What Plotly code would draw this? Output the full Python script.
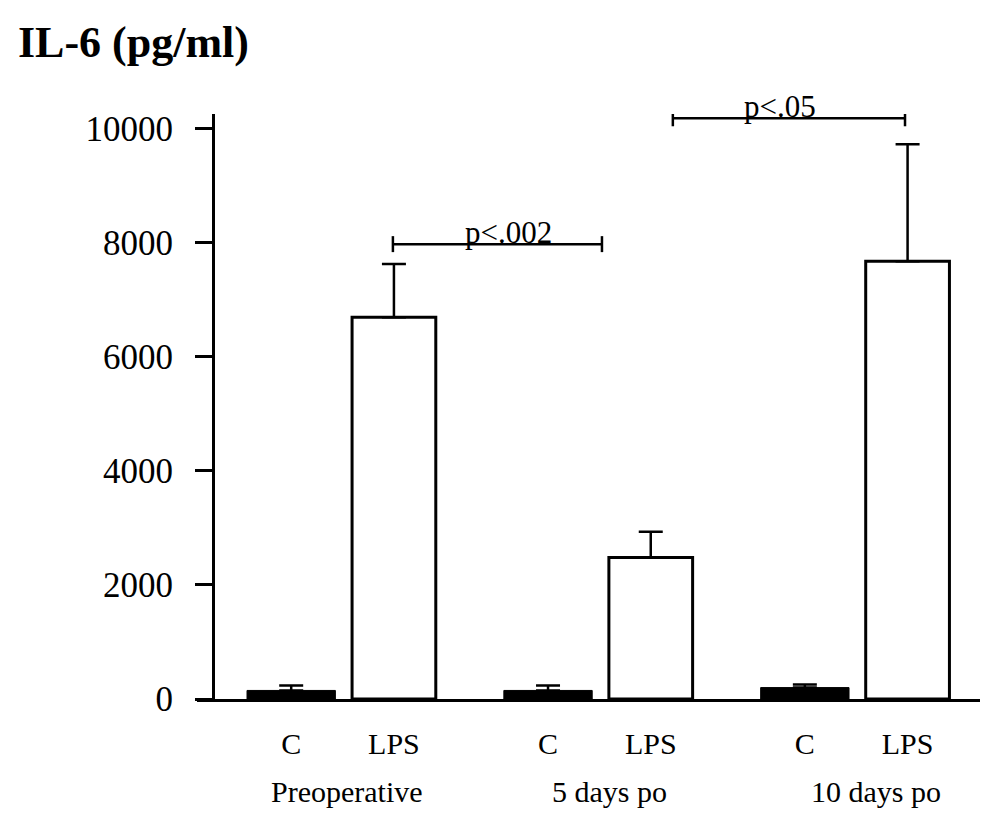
import plotly.graph_objects as go

# ---- data ----
groups = ["Preoperative", "5 days po", "10 days po"]
series = ["C", "LPS"]
c_values = [150, 150, 200]
c_errors = [85, 85, 55]
lps_values = [6690, 2480, 7670]
lps_errors = [930, 450, 2050]
y_ticks = [0, 2000, 4000, 6000, 8000, 10000]
# significance brackets: (x_start, x_end, y, label, label_x) in bar-position units
brackets = [
    (1.98, 6.05, 7970, "p<.002", 4.24),
    (7.43, 11.95, 10175, "p<.05", 9.52),
]

GROUP_STEP = 5
SERIES_OFFSET = 2
FONT = "Liberation Serif"
PAGE_OFFSET = 8  # default body margin of the html page
GROUP_LABEL_XSHIFT = [4, 10, 20]

c_x = [g * GROUP_STEP for g in range(len(groups))]
lps_x = [g * GROUP_STEP + SERIES_OFFSET for g in range(len(groups))]

fig = go.Figure()
fig.add_trace(go.Bar(
    x=c_x, y=c_values, width=1.72, name="C",
    marker=dict(color="black", line=dict(color="black", width=1)),
    error_y=dict(type="data", symmetric=False, array=c_errors,
                 arrayminus=[0] * len(c_errors), color="black",
                 thickness=2.5, width=12),
))
fig.add_trace(go.Bar(
    x=lps_x, y=lps_values, width=1.63, name="LPS",
    marker=dict(color="white", line=dict(color="black", width=3)),
    error_y=dict(type="data", symmetric=False, array=lps_errors,
                 arrayminus=[0] * len(lps_errors), color="black",
                 thickness=2.5, width=12),
))

tickvals = []
ticktext = []
for g in range(len(groups)):
    tickvals += [c_x[g], lps_x[g]]
    ticktext += series

shapes = []
annotations = []
for x0, x1, y, label, lx in brackets:
    shapes.append(dict(type="line", xref="x", yref="y", x0=x0, x1=x1, y0=y, y1=y,
                       line=dict(color="black", width=2.5)))
    for xe in (x0, x1):
        shapes.append(dict(type="line", xref="x", yref="y", x0=xe, x1=xe,
                           y0=y - 140, y1=y + 140, line=dict(color="black", width=2.5)))
    annotations.append(dict(x=lx, y=y, xref="x", yref="y", text=label, showarrow=False,
                            yanchor="bottom", yshift=-8,
                            font=dict(family=FONT, size=31, color="black")))

for g, name in enumerate(groups):
    annotations.append(dict(x=(c_x[g] + lps_x[g]) / 2, y=0, xref="x", yref="paper",
                            text=name, showarrow=False, yanchor="middle", yshift=-92,
                            xshift=GROUP_LABEL_XSHIFT[g],
                            font=dict(family=FONT, size=30, color="black")))

# target pixel positions in the screenshot
L, R = 197, 980
TOP, BOTTOM = 114, 699.5
x_left = -1.834
x_right = 13.41
yaxis_pos = (213 - L) / (R - L)

fig.update_layout(
    width=1004, height=829,
    paper_bgcolor="white", plot_bgcolor="white",
    margin=dict(l=L - PAGE_OFFSET, r=1004 - (R - PAGE_OFFSET),
                t=TOP - PAGE_OFFSET, b=829 - (BOTTOM - PAGE_OFFSET), autoexpand=False),
    showlegend=False,
    barmode="overlay",
    title=dict(text="<b>IL-6 (pg/ml)</b>", x=10 / 1004, xanchor="left", xref="container",
               y=1 - 34 / 829, yanchor="middle", yref="container",
               font=dict(family=FONT, size=44, color="black")),
    xaxis=dict(range=[x_left, x_right], showline=True, linecolor="black", linewidth=3,
               showgrid=False, zeroline=False, ticks="", tickvals=tickvals,
               ticktext=ticktext, ticklabelstandoff=16,
               tickfont=dict(family=FONT, size=30, color="black")),
    yaxis=dict(range=[0, 10250], anchor="free", position=yaxis_pos, showline=True,
               linecolor="black", linewidth=3, showgrid=False, zeroline=False,
               ticks="outside", ticklen=17, tickwidth=3, tickcolor="black",
               tickvals=y_ticks, ticktext=[str(v) for v in y_ticks],
               ticklabelstandoff=15,
               tickfont=dict(family=FONT, size=35, color="black")),
    shapes=shapes,
    annotations=annotations,
)

fig.write_html("out.html")
